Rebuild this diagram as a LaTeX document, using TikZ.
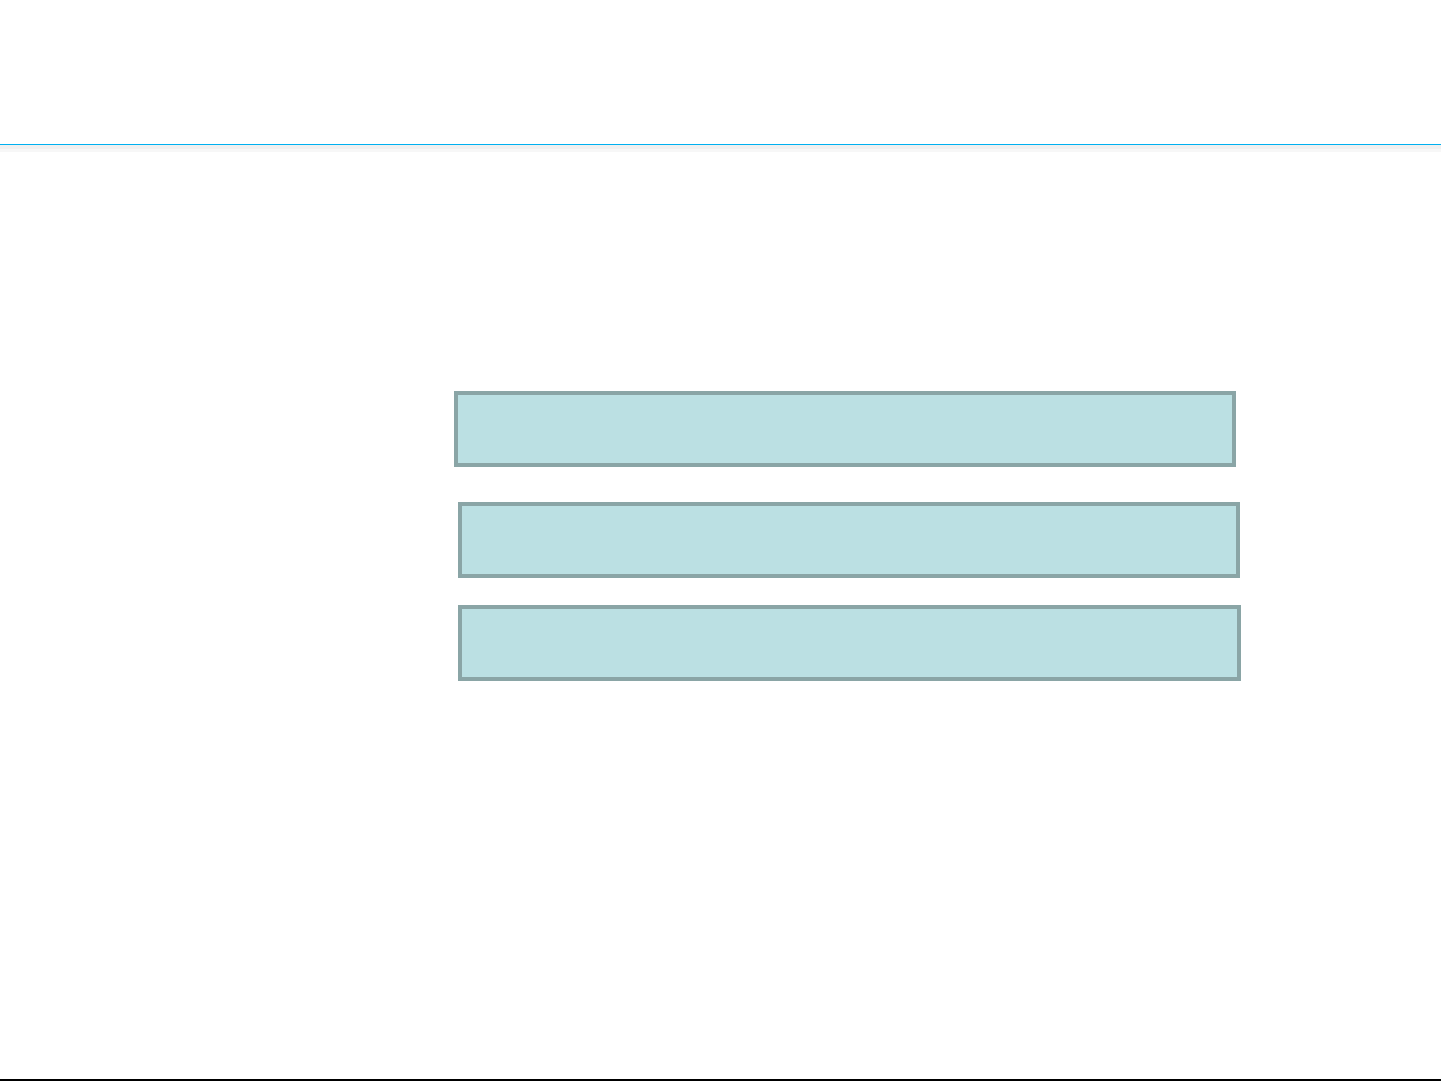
\documentclass[tikz,border=0pt]{standalone}
\begin{document}
\begin{tikzpicture}[x=1pt,y=-1pt,
  bar/.style={draw=barEdge,fill=barFill,line width=3.5pt,rectangle,inner sep=0pt,anchor=north west}]
\definecolor{barEdge}{HTML}{8AA5A6}
\definecolor{barFill}{HTML}{BBE0E3}
\definecolor{topLine}{HTML}{00B0F0}
\useasboundingbox[fill=white] (0,0) rectangle (1441,1081);
% header shadow and line
\fill[black!6] (0,145) rectangle (1441,149);
\fill[black!3] (0,149) rectangle (1441,152);
\draw[topLine,line width=1.6pt] (0,144.3) -- (1441,144.3);
% bars
\node[bar,minimum width=778pt,minimum height=72pt] (b1) at (454.2,391.2) {};
\node[bar,minimum width=778pt,minimum height=72pt] (b2) at (458.2,502.2) {};
\node[bar,minimum width=779pt,minimum height=72pt] (b3) at (458.2,605.2) {};
% bottom rule
\draw[black,line width=1.2pt] (0,1080) -- (1441,1080);
\end{tikzpicture}
\end{document}
